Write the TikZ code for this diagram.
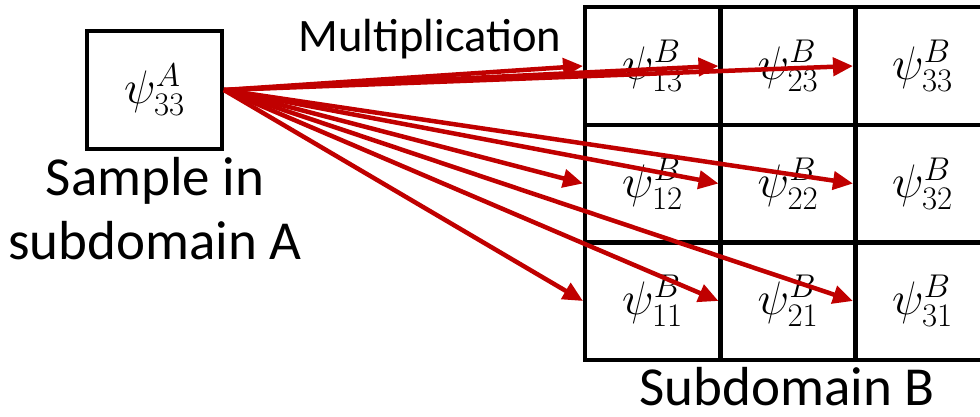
\RequirePackage{fix-cm}
\documentclass[tikz,border=0pt]{standalone}
\usepackage{fontspec}
\setmainfont{Carlito}
\usetikzlibrary{arrows.meta}
\definecolor{arrred}{RGB}{192,0,0}
\begin{document}
\begin{tikzpicture}[x=1pt,y=-1pt,
  cell/.style={draw,line width=4pt,minimum width=135pt,minimum height=118pt,inner sep=0pt,font=\fontsize{47}{56}\selectfont},
  mult/.style={draw=arrred,line width=4.5pt,-{Triangle[length=20pt,width=18pt]}},
  lbl/.style={font=\fontsize{55}{66}\selectfont,anchor=base,inner sep=0pt}]
\useasboundingbox (0,0) rectangle (980,416);
\node[cell] (a) at (154.5,90) {$\psi^A_{33}$};
\node[lbl] (la1) at (155,195) {Sample in};
\node[lbl] (la2) at (155,259) {subdomain A};
\node[lbl,font=\fontsize{46.5}{56}\selectfont] (mul) at (430,51) {Multiplication};
\node[lbl] (lb) at (787,405) {Subdomain B};
% grid
\node[cell] (c13) at (652.5,66) {$\psi^B_{13}$};
\node[cell] (c23) at (788,66) {$\psi^B_{23}$};
\node[cell] (c33) at (922.5,66) {$\psi^B_{33}$};
\node[cell] (c12) at (652.5,183.5) {$\psi^B_{12}$};
\node[cell] (c22) at (788,183.5) {$\psi^B_{22}$};
\node[cell] (c32) at (922.5,183.5) {$\psi^B_{32}$};
\node[cell] (c11) at (652.5,301) {$\psi^B_{11}$};
\node[cell] (c21) at (788,301) {$\psi^B_{21}$};
\node[cell] (c31) at (922.5,301) {$\psi^B_{31}$};
% arrows
\foreach \t in {c13,c23,c33,c12,c22,c32,c11,c21,c31}
  \draw[mult] (a.east) -- (\t.west);
\end{tikzpicture}
\end{document}
